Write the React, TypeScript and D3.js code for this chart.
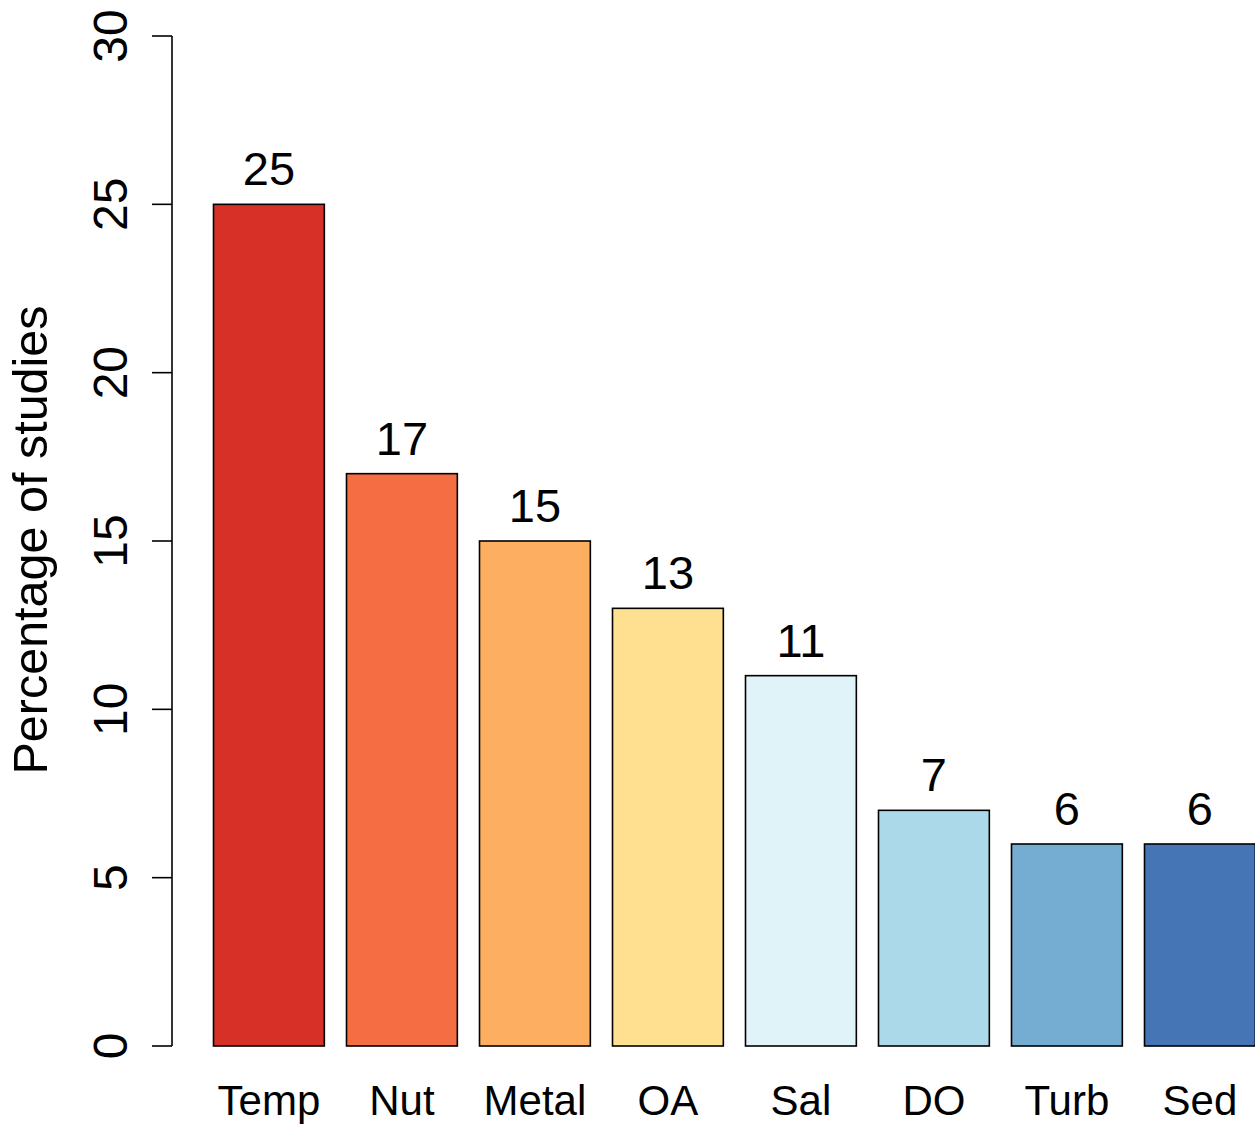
import React from "react";
import * as d3 from "d3";

const categories = ["Temp", "Nut", "Metal", "OA", "Sal", "DO", "Turb", "Sed"];
const values = [25, 17, 15, 13, 11, 7, 6, 6];
const colors = ["#d73027", "#f46d43", "#fdae61", "#fee090", "#e0f3f8", "#abd9e9", "#74add1", "#4575b4"];
const yTicks = [0, 5, 10, 15, 20, 25, 30];
const yTitle = "Percentage of studies";

const W = 1255;
const H = 1126;
const FONT = "'Liberation Sans', Arial, Helvetica, sans-serif";

export default function App() {
  const x = d3
    .scaleBand<string>()
    .domain(categories)
    .range([213.5, 213.5 + 133 * (8 - 1 / 6)])
    .paddingInner(1 / 6)
    .paddingOuter(0);
  const y = d3.scaleLinear().domain([0, 30]).range([1046, 36]);
  const axisX = 172;

  return (
    <svg
      width={W}
      height={H}
      style={{ position: "absolute", left: 0, top: 0, background: "#fff" }}
      fontFamily={FONT}
    >
      {categories.map((c, i) => (
        <rect
          key={c}
          x={x(c)}
          y={y(values[i])}
          width={x.bandwidth()}
          height={y(0) - y(values[i])}
          fill={colors[i]}
          stroke="#000"
          strokeWidth={1.6}
        />
      ))}
      {categories.map((c, i) => (
        <text
          key={"v" + c}
          x={(x(c) as number) + x.bandwidth() / 2}
          y={y(values[i]) - 19}
          textAnchor="middle"
          fontSize={47}
          fill="#000"
        >
          {values[i]}
        </text>
      ))}
      {categories.map((c) => (
        <text
          key={"l" + c}
          x={(x(c) as number) + x.bandwidth() / 2}
          y={1115}
          textAnchor="middle"
          fontSize={42}
          fill="#000"
        >
          {c}
        </text>
      ))}
      <line x1={axisX} x2={axisX} y1={y(30)} y2={y(0)} stroke="#000" strokeWidth={1.6} />
      {yTicks.map((t) => (
        <g key={"t" + t}>
          <line x1={axisX - 20} x2={axisX} y1={y(t)} y2={y(t)} stroke="#000" strokeWidth={1.6} />
          <text
            transform={`translate(${127},${y(t)}) rotate(-90)`}
            textAnchor="middle"
            fontSize={48}
            fill="#000"
          >
            {t}
          </text>
        </g>
      ))}
      <text
        transform={`translate(${47},${540}) rotate(-90)`}
        textAnchor="middle"
        fontSize={48.5}
        fill="#000"
      >
        {yTitle}
      </text>
    </svg>
  );
}
